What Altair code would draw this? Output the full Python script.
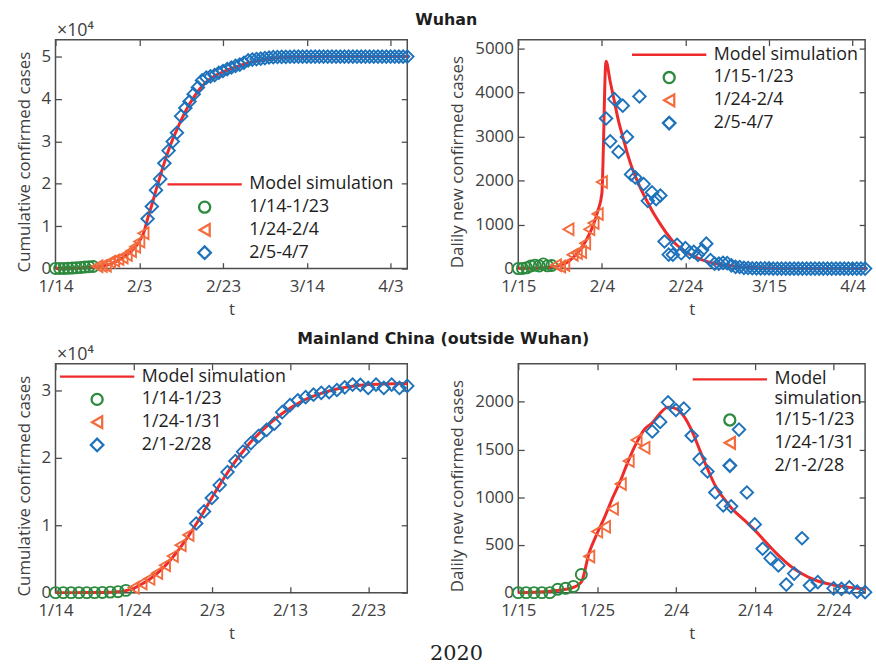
import altair as alt
import pandas as pd

FONT = "Open Sans"
TFONT = "DejaVu Sans"
RED = "#ee2a2a"
GREEN = "#2b8a3e"
ORANGE = "#f36c3d"
BLUE = "#1d72bb"
AXC = "#4d4d4d"
LABC = "#404040"
TXT = "#1e1e1e"

# ---------------- Wuhan, cumulative confirmed cases (day 0 = 1/14) ----------------
tl_names = ["Model simulation", "1/14-1/23", "1/24-2/4", "2/5-4/7"]
tl_starts = [0, 10, 22]
tl_green = [41, 41, 45, 62, 121, 198, 258, 363, 425, 495]
tl_orange = [572, 618, 698, 1590, 1905, 2261, 2639, 3215, 4109, 5142, 6384, 8351]
tl_blue = [11760, 14650, 18500, 21150, 24850, 27840, 29980, 32050, 35960, 37880,
           39420, 41150, 42730, 44390, 45027, 45346, 45660, 46201, 46607, 47071,
           47441, 47824, 48137, 48557, 49122,
           49315, 49426, 49540, 49671, 49797, 49871, 49912, 49948, 49965, 49978,
           49986, 49991, 49995, 49999, 50003, 50004, 50005, 50005, 50005, 50005,
           50005, 50005, 50006, 50006, 50006, 50006, 50006, 50006, 50006, 50006,
           50007,
           50007, 50008, 50008, 50008, 50008, 50008, 50008]
tl_model_days = [0, 4, 8, 10, 11, 12, 13, 14, 15, 16, 17, 18, 19, 20, 21, 22, 23, 24, 25, 26,
                 27, 28, 29, 30, 31, 32, 33, 34, 35, 36, 38, 40, 42, 44, 46, 48, 50, 53, 56, 60, 84]
tl_model = [41, 80, 300, 480, 600, 760, 1050, 1450, 1950, 2550, 3200, 4000, 5000, 6400, 8300,
            11800, 15000, 18500, 21800, 25000, 27900, 30500, 32800, 35000, 37000, 38800, 40400,
            41800, 43000, 44000, 45400, 46400, 47200, 47900, 48500, 49000, 49400, 49750, 49900,
            50000, 50010]
tl_xticks = [0, 20, 40, 60, 80]
tl_xlabels = ["1/14", "2/3", "2/23", "3/14", "4/3"]
tl_yticks = [0, 10000, 20000, 30000, 40000, 50000]
tl_ylabels = ["0", "1", "2", "3", "4", "5"]

# ---------------- Wuhan, daily new confirmed cases (day 0 = 1/15) ----------------
tr_names = ["Model simulation", "1/15-1/23", "1/24-2/4", "2/5-4/7"]
tr_starts = [0, 9, 21]
tr_green = [0, 4, 17, 59, 77, 60, 105, 62, 70]
tr_orange = [77, 46, 80, 892, 315, 356, 378, 576, 894, 1033, 1242, 1967]
tr_blue = [3410, 2890, 3850, 2650, 3700, 2990, 2140, 2070, 3910, 1920, 1540, 1730, 1580, 1660,
           615, 319, 314, 541, 348, 464, 370, 383, 313, 420, 565,
           193, 111, 114, 131, 126, 74, 41, 36, 17, 13, 8, 5, 4, 4, 4, 1, 1,
           0, 0, 0, 0, 0, 1, 0, 0, 0, 0, 0, 0, 0, 0,
           1, 0, 0, 0, 0, 0, 0]
tr_model_days = [0, 2, 4, 6, 8, 9, 10, 11, 12, 13, 14, 15, 16, 17, 18, 19, 20, 21, 22, 23, 24,
                 25, 26, 27, 28, 29, 30, 31, 32, 33, 34, 35, 36, 37, 38, 39, 40, 42, 44, 46, 48,
                 50, 53, 56, 60, 65, 70, 83]
tr_model = [5, 8, 12, 20, 35, 50, 80, 110, 160, 240, 340, 460, 600, 780, 1000, 1300, 1700, 4710,
            4250, 3800, 3350, 3000, 2650, 2350, 2100, 1880, 1680, 1500, 1320, 1160, 1010, 870,
            740, 620, 530, 450, 380, 280, 200, 140, 100, 75, 45, 28, 14, 6, 3, 1]
tr_xticks = [0, 20, 40, 60, 80]
tr_xlabels = ["1/15", "2/4", "2/24", "3/15", "4/4"]
tr_yticks = [0, 1000, 2000, 3000, 4000, 5000]
tr_ylabels = ["0", "1000", "2000", "3000", "4000", "5000"]

# ---------------- Mainland China outside Wuhan, cumulative (day 0 = 1/14) ----------------
bl_names = ["Model simulation", "1/14-1/23", "1/24-1/31", "2/1-2/28"]
bl_starts = [0, 10, 18]
bl_green = [0, 0, 0, 0, 0, 0, 33, 77, 146, 335]
bl_orange = [715, 1357, 2046, 2925, 4069, 5450, 7053, 8576]
bl_blue = [10271, 12063, 14054, 15973, 17901, 19543, 20943, 22216, 23269, 24184, 25095, 26810,
           27860, 28578, 29038, 29396, 29684, 29773, 30100, 30500, 30900, 30850, 30400, 30900,
           30400, 30900, 30400, 30700]
bl_model_days = [0, 4, 6, 8, 9, 10, 11, 12, 13, 14, 15, 16, 17, 18, 19, 20, 21, 22, 23, 24, 25,
                 26, 27, 28, 29, 30, 31, 32, 33, 34, 35, 36, 38, 40, 42, 45]
bl_model = [0, 5, 20, 120, 300, 650, 1250, 1950, 2850, 3950, 5250, 6750, 8400, 10200, 12100,
            14100, 16000, 17800, 19500, 21000, 22400, 23600, 24700, 25700, 26600, 27400, 28100,
            28700, 29200, 29600, 29950, 30250, 30650, 30900, 31000, 31050]
bl_xticks = [0, 10, 20, 30, 40]
bl_xlabels = ["1/14", "1/24", "2/3", "2/13", "2/23"]
bl_yticks = [0, 10000, 20000, 30000]
bl_ylabels = ["0", "1", "2", "3"]

# ---------------- Mainland China outside Wuhan, daily (day 0 = 1/15) ----------------
br_names = ["Model simulation", "1/15-1/23", "1/24-1/31", "2/1-2/28"]
br_starts = [0, 9, 17]
br_green = [0, 0, 0, 0, 0, 35, 45, 65, 190]
br_orange = [380, 640, 690, 880, 1140, 1380, 1600, 1520]
br_blue = [1690, 1790, 1995, 1915, 1930, 1645, 1400, 1270, 1050, 915, 905, 1710, 1050, 715,
           460, 360, 285, 85, 200, 570, 75, 110, None, 45, 40, 55, 10, 5]
br_model_days = [0, 2, 4, 6, 7, 8, 9, 10, 11, 12, 13, 14, 15, 16, 17, 18, 19, 20, 21, 22, 23,
                 24, 25, 26, 27, 28, 29, 30, 31, 32, 33, 34, 35, 36, 37, 38, 39, 40, 41, 42, 43, 44]
br_model = [0, 5, 15, 35, 55, 110, 420, 620, 800, 1000, 1180, 1390, 1570, 1710, 1780, 1880,
            1945, 1930, 1850, 1700, 1500, 1300, 1120, 995, 890, 810, 735, 655, 565, 475, 390,
            315, 250, 198, 155, 122, 98, 80, 66, 55, 47, 40]
br_xticks = [0, 10, 20, 30, 40]
br_xlabels = ["1/15", "1/25", "2/4", "2/14", "2/24"]
br_yticks = [0, 500, 1000, 1500, 2000]
br_ylabels = ["0", "500", "1000", "1500", "2000"]


def labexpr(vals, labs):
    return ("[" + ",".join("'%s'" % s for s in labs) + "][indexof(["
            + ",".join(str(v) for v in vals) + "], datum.value)]")


def tick_axis(orient, off, vals, sup=False):
    kw = dict(orient=orient, offset=off, values=vals, labels=False, domain=False,
              grid=False, ticks=True, tickSize=6, tickColor=AXC, tickWidth=1.3)
    if sup:
        kw.update(title="×10⁴", titleX=1, titleY=-4, titleAngle=0, titleAlign="left",
                  titleBaseline="alphabetic", titleFont=FONT, titleFontSize=18,
                  titleColor=LABC, titleFontWeight="normal")
    else:
        kw.update(title=None)
    return alt.Axis(**kw)


def panel(names, starts, series, mdays, mvals, xdom, ydom, xt, xl, yt, yl, ytitle,
          w, h, lx, ly, ty, two_line=False, sup=False, title=None):
    rows = []
    for name, start, vals in zip(names[1:], starts, series):
        for i, v in enumerate(vals):
            if v is not None:
                rows.append({"day": start + i, "value": v, "series": name})
    pdf = pd.DataFrame(rows)
    mdf = pd.DataFrame({"day": mdays, "value": mvals})
    xs = alt.Scale(domain=xdom, nice=False, zero=False)
    ys = alt.Scale(domain=ydom, nice=False, zero=False)
    xmain = alt.Axis(orient="bottom", values=xt, labelExpr=labexpr(xt, xl), title="t",
                     domain=False, ticks=False, grid=False, labelPadding=10, titlePadding=7,
                     labelFlush=False, labelOverlap=False)
    ymain = alt.Axis(orient="left", values=yt, labelExpr=labexpr(yt, yl), title=ytitle,
                     domain=False, ticks=False, grid=False, labelPadding=5, titlePadding=8,
                     titleY=ty, labelFlush=False, labelOverlap=False)
    lab_expr = ("datum.label == 'Model simulation' ? ['Model', 'simulation'] : datum.label"
                if two_line else "datum.label")
    leg = alt.Legend(title=None, orient="none", legendX=lx, legendY=ly, padding=0,
                     labelFont=FONT, labelFontSize=18, labelColor=TXT, labelOffset=6,
                     labelLimit=300, clipHeight=23, rowPadding=0, symbolStrokeWidth=2.3,
                     labelExpr=lab_expr)
    line = alt.Chart(mdf).mark_line(color=RED, strokeWidth=3, interpolate="monotone").encode(
        x=alt.X("day:Q", scale=xs, axis=xmain),
        y=alt.Y("value:Q", scale=ys, axis=ymain),
    )
    pts = alt.Chart(pdf).mark_point(filled=False, strokeWidth=1.9, opacity=1).encode(
        x=alt.X("day:Q", axis=tick_axis("top", -h, xt)),
        y=alt.Y("value:Q", axis=tick_axis("right", -w, yt, sup)),
        color=alt.Color("series:N", scale=alt.Scale(domain=names, range=[RED, GREEN, ORANGE, BLUE]),
                        legend=leg),
        shape=alt.Shape("series:N", scale=alt.Scale(domain=names,
                        range=["stroke", "circle", "triangle-left", "diamond"]), legend=leg),
        size=alt.Size("series:N", scale=alt.Scale(type="ordinal", domain=names,
                      range=[5625, 125, 140, 160]), legend=leg),
    )
    ticks2 = alt.Chart(mdf).mark_line(opacity=0).encode(
        x=alt.X("day:Q", axis=tick_axis("bottom", -h, xt)),
        y=alt.Y("value:Q", axis=tick_axis("left", -w, yt)),
    )
    ch = alt.layer(line, pts, ticks2).resolve_axis(x="independent", y="independent")
    if title is not None:
        ch = ch.properties(width=w, height=h, title=title)
    else:
        ch = ch.properties(width=w, height=h)
    return ch


t_wuhan = alt.TitleParams("Wuhan", anchor="start", frame="group", offset=-6, dx=363,
                          font=TFONT, fontSize=16, fontWeight="bold", color=TXT)
t_china = alt.TitleParams("Mainland China (outside Wuhan)", anchor="start", frame="group",
                          offset=-1, dx=244, font=TFONT, fontSize=16, fontWeight="bold", color=TXT)

tl = panel(tl_names, tl_starts, [tl_green, tl_orange, tl_blue], tl_model_days, tl_model,
           [0, 84], [0, 54000], tl_xticks, tl_xlabels, tl_yticks, tl_ylabels,
           "Cumulative confirmed cases", 355, 231, 111.5, 134.5, 123, sup=True, title=t_wuhan)
tr = panel(tr_names, tr_starts, [tr_green, tr_orange, tr_blue], tr_model_days, tr_model,
           [0, 83], [0, 5200], tr_xticks, tr_xlabels, tr_yticks, tr_ylabels,
           "Dalily new confirmed cases", 350, 231, 113.3, 3.7, 123)
bl = panel(bl_names, bl_starts, [bl_green, bl_orange, bl_blue], bl_model_days, bl_model,
           [0, 45], [0, 34000], bl_xticks, bl_xlabels, bl_yticks, bl_ylabels,
           "Cumulative confirmed cases", 355, 231, 3, 1.5, 123, sup=True, title=t_china)
br = panel(br_names, br_starts, [br_green, br_orange, br_blue], br_model_days, br_model,
           [0, 44], [0, 2400], br_xticks, br_xlabels, br_yticks, br_ylabels,
           "Dalily new confirmed cases", 350, 231, 174.5, 4.3, 123, two_line=True)

indep = dict(color="independent", shape="independent", size="independent")

chart = alt.concat(
    tl, tr, bl, br, columns=2, spacing={"row": 96, "column": 112}, bounds="flush",
    title=alt.TitleParams("2020", orient="bottom", anchor="start", frame="group",
                          offset=1, dx=378, font="DejaVu Serif", fontSize=21,
                          fontWeight="normal", color="#222222")
).resolve_scale(**indep).resolve_legend(**indep).properties(
    padding={"left": 14, "top": 8, "right": 0, "bottom": 0}
).configure_view(stroke=AXC, strokeWidth=1.5).configure_axis(
    labelFont=FONT, labelFontSize=17, labelColor=LABC, titleFont=FONT, titleFontSize=17,
    titleColor=LABC, titleFontWeight="normal"
).configure_title(font=FONT)

chart.save("out.html", embed_options={"renderer": "svg", "actions": False})
